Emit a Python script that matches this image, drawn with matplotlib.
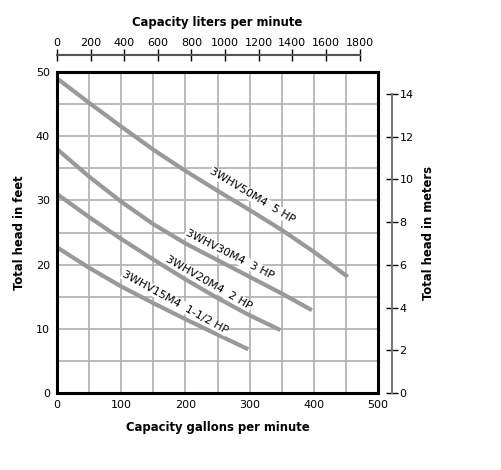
import matplotlib
matplotlib.use('Agg')
import matplotlib.pyplot as plt
import numpy as np

# pump curves: capacity (gpm) vs total head (ft)
gpm_5hp = [0, 50, 100, 150, 200, 250, 300, 350, 400, 453]
ft_5hp = [49.0, 45.2, 41.5, 37.9, 34.6, 31.5, 28.5, 25.4, 22.0, 18.1]

gpm_3hp = [0, 50, 100, 150, 200, 250, 300, 350, 397]
ft_3hp = [38.0, 33.7, 29.8, 26.3, 23.3, 20.7, 18.1, 15.5, 12.9]

gpm_2hp = [0, 50, 100, 150, 200, 250, 300, 348]
ft_2hp = [31.0, 27.4, 24.0, 20.8, 17.7, 14.8, 12.1, 9.8]

gpm_15hp = [0, 50, 100, 150, 200, 250, 298]
ft_15hp = [22.7, 19.5, 16.6, 14.0, 11.5, 9.1, 6.8]

labels = ['3WHV50M4  5 HP', '3WHV30M4  3 HP', '3WHV20M4  2 HP', '3WHV15M4  1-1/2 HP']
label_gpm = [304, 269, 236, 184]
label_ft = [30.7, 21.6, 17.2, 14.1]
label_rot = [-31, -27, -30, -29]

gpm_ticks = [0, 100, 200, 300, 400, 500]
ft_ticks = [0, 10, 20, 30, 40, 50]
lpm_ticks = [0, 200, 400, 600, 800, 1000, 1200, 1400, 1600, 1800]
m_ticks = [0, 2, 4, 6, 8, 10, 12, 14]

title_font = dict(family='DejaVu Sans', stretch='condensed', weight='bold', size=9.3)

fig = plt.figure(figsize=(5.01, 4.70), dpi=100)
ax = fig.add_axes([57 / 501, 77 / 470, 321 / 501, 321 / 470])

# grid
for g in np.arange(50, 500, 50):
    ax.axvline(g, color='#b4b4b4', lw=1.3, zorder=1)
for f in np.arange(5, 50, 5):
    ax.axhline(f, color='#b4b4b4', lw=1.3, zorder=1)

curve_kw = dict(color='#999999', lw=3.0, solid_capstyle='butt', solid_joinstyle='round', zorder=2)
ax.plot(gpm_5hp, ft_5hp, **curve_kw)
ax.plot(gpm_3hp, ft_3hp, **curve_kw)
ax.plot(gpm_2hp, ft_2hp, **curve_kw)
ax.plot(gpm_15hp, ft_15hp, **curve_kw)

for txt, x, y, r in zip(labels, label_gpm, label_ft, label_rot):
    ax.text(x, y, txt, rotation=r, rotation_mode='anchor', ha='center', va='center',
            fontsize=8, family='DejaVu Sans', zorder=3,
            bbox=dict(facecolor='white', edgecolor='none', pad=0.5))

ax.set_xlim(0, 500)
ax.set_ylim(0, 50)
ax.set_xticks(gpm_ticks)
ax.set_yticks(ft_ticks)
ax.tick_params(length=0, labelsize=8, pad=5)
for s in ax.spines.values():
    s.set_linewidth(2.2)
    s.set_color('black')
ax.set_xlabel('Capacity gallons per minute', fontdict=title_font, labelpad=8)
ax.set_ylabel('Total head in feet', fontdict=title_font, labelpad=7)

# top axis: liters per minute
axt = ax.twiny()
axt.set_xlim(0, 1910)
axt.set_xticks(lpm_ticks)
for s in ['bottom', 'left', 'right']:
    axt.spines[s].set_visible(False)
axt.spines['top'].set_position(('outward', 12))
axt.spines['top'].set_bounds(0, 1800)
axt.spines['top'].set_color('#555555')
axt.spines['top'].set_linewidth(1.5)
axt.tick_params(axis='x', direction='inout', length=8, width=1, labelsize=8, pad=1)
axt.set_xlabel('Capacity liters per minute', fontdict=title_font, labelpad=9)

# right axis: meters
axr = ax.twinx()
axr.set_ylim(0, 15.03)
axr.set_yticks(m_ticks)
for s in ['bottom', 'left', 'top']:
    axr.spines[s].set_visible(False)
axr.spines['right'].set_position(('outward', 10))
axr.spines['right'].set_bounds(0, 14)
axr.spines['right'].set_color('#777777')
axr.spines['right'].set_linewidth(1.5)
axr.tick_params(axis='y', direction='inout', length=9, width=1, labelsize=8, pad=1)
axr.set_ylabel('Total head in meters', fontdict=title_font, labelpad=6)

fig.savefig('out.png', dpi=100)
